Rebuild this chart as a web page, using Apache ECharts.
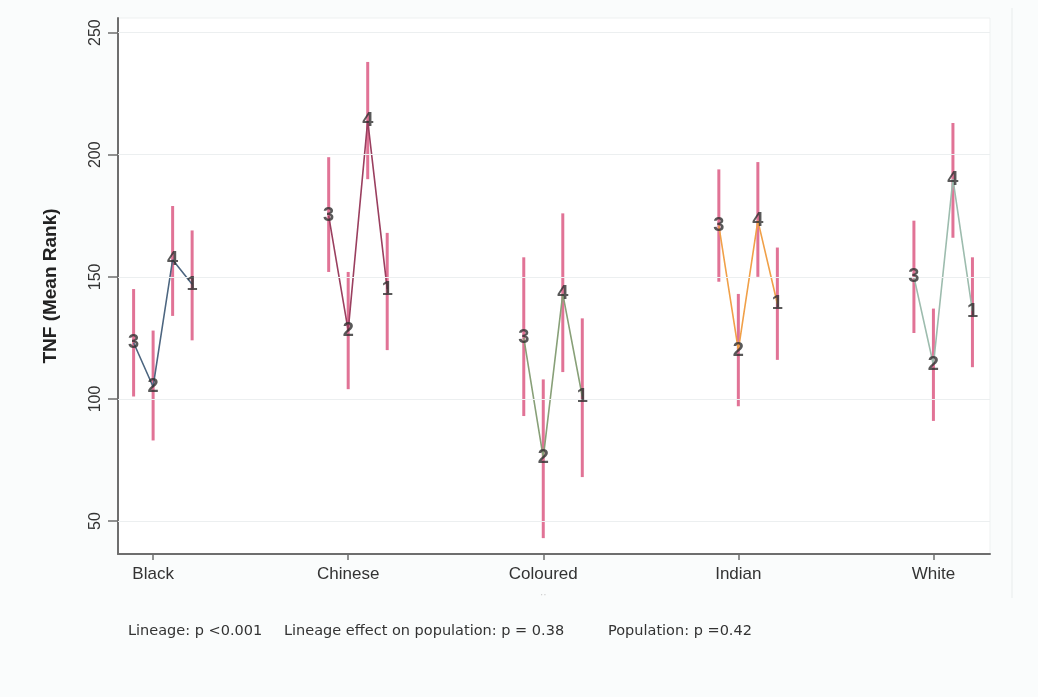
<!DOCTYPE html>
<html>
<head>
<meta charset="utf-8">
<script src="https://cdn.jsdelivr.net/npm/echarts@6/dist/echarts.min.js"></script>
<style>
  html, body { margin: 0; padding: 0; background: #fafcfc; }
  #chart { width: 1038px; height: 697px; }
</style>
</head>
<body>
<div id="chart"></div>
<script>
// Populations along the x axis and the lineage order plotted within each group
const populations = ['Black', 'Chinese', 'Coloured', 'Indian', 'White'];
const lineages = ['3', '2', '4', '1'];
const yTicks = [50, 100, 150, 200, 250];

// TNF mean rank and 95% CI per lineage (order: 3, 2, 4, 1)
const blackMean = [123, 105, 157, 147];
const blackLow = [101, 83, 134, 124];
const blackHigh = [145, 128, 179, 169];

const chineseMean = [175, 128, 214, 145];
const chineseLow = [152, 104, 190, 120];
const chineseHigh = [199, 152, 238, 168];

const colouredMean = [125, 76, 143, 101];
const colouredLow = [93, 43, 111, 68];
const colouredHigh = [158, 108, 176, 133];

const indianMean = [171, 120, 173, 139];
const indianLow = [148, 97, 150, 116];
const indianHigh = [194, 143, 197, 162];

const whiteMean = [150, 114, 190, 136];
const whiteLow = [127, 91, 166, 113];
const whiteHigh = [173, 137, 213, 158];

const pValues = ['Lineage: p <0.001', 'Lineage effect on population: p = 0.38', 'Population: p =0.42'];

const groups = [
  { mean: blackMean, low: blackLow, high: blackHigh, color: '#4d6680' },
  { mean: chineseMean, low: chineseLow, high: chineseHigh, color: '#9a3f5f' },
  { mean: colouredMean, low: colouredLow, high: colouredHigh, color: '#88a078' },
  { mean: indianMean, low: indianLow, high: indianHigh, color: '#f0a048' },
  { mean: whiteMean, low: whiteLow, high: whiteHigh, color: '#9dbcae' }
];

// lineages sit side by side around each population tick
const xPos = (g, j) => g + (j - 1) * 0.1;

const ciData = [];
const labelData = [];
groups.forEach((grp, g) => {
  lineages.forEach((lin, j) => {
    ciData.push([xPos(g, j), grp.low[j], grp.high[j]]);
    labelData.push([xPos(g, j), grp.mean[j], lin]);
  });
});

const lineSeries = groups.map((grp, g) => ({
  type: 'line',
  data: grp.mean.map((m, j) => [xPos(g, j), m]),
  symbol: 'none',
  lineStyle: { color: grp.color, width: 1.6 },
  z: 3,
  silent: true,
  animation: false
}));

const chart = echarts.init(document.getElementById('chart'), null, { renderer: 'canvas' });

const noteFont = 'DejaVu Sans, sans-serif';

chart.setOption({
  backgroundColor: '#fafcfc',
  animation: false,
  grid: {
    left: 118, right: 48, top: 18, bottom: 143,
    show: true, backgroundColor: '#ffffff', borderColor: '#eef1f1', borderWidth: 1
  },
  xAxis: {
    type: 'value',
    min: -0.18,
    max: 4.29,
    splitLine: { show: false },
    axisLine: { onZero: false, lineStyle: { color: '#6e6e6e', width: 2 } },
    axisTick: { customValues: [0, 1, 2, 3, 4], length: 6, lineStyle: { color: '#6e6e6e', width: 1.5 } },
    axisLabel: {
      customValues: [0, 1, 2, 3, 4],
      formatter: v => populations[Math.round(v)],
      fontSize: 17,
      fontFamily: 'Liberation Sans, Arial, sans-serif',
      color: '#333',
      margin: 12
    }
  },
  yAxis: {
    type: 'value',
    min: 36.5,
    max: 256,
    name: 'TNF (Mean Rank)',
    nameLocation: 'middle',
    nameGap: 58,
    nameTextStyle: { fontSize: 19, fontWeight: 'bold', color: '#222', fontFamily: 'Liberation Sans, Arial, sans-serif' },
    splitLine: { show: false },
    axisLine: { show: true, onZero: false, lineStyle: { color: '#6e6e6e', width: 2 } },
    axisTick: { customValues: yTicks, length: 10, lineStyle: { color: '#6e6e6e', width: 1.5 } },
    axisLabel: {
      customValues: yTicks,
      rotate: 90,
      fontSize: 16,
      fontFamily: 'Liberation Sans, Arial, sans-serif',
      color: '#333',
      margin: 14
    }
  },
  graphic: [
    { type: 'line', shape: { x1: 1012, y1: 8, x2: 1012, y2: 598 }, style: { stroke: '#eef2f2', lineWidth: 1.5 }, silent: true },
    { type: 'text', left: 540, top: 590, style: { text: '··', fontSize: 10, fill: '#c8c8c8' }, silent: true },
    { type: 'text', left: 128, top: 624, style: { text: pValues[0], fontSize: 14.5, fill: '#333', fontFamily: noteFont } },
    { type: 'text', left: 284, top: 624, style: { text: pValues[1], fontSize: 14.5, fill: '#333', fontFamily: noteFont } },
    { type: 'text', left: 608, top: 624, style: { text: pValues[2], fontSize: 14.5, fill: '#333', fontFamily: noteFont } }
  ],
  series: [
    {
      // horizontal reference lines at the labelled y ticks
      type: 'scatter',
      data: [],
      silent: true,
      markLine: {
        silent: true,
        symbol: 'none',
        label: { show: false },
        lineStyle: { color: '#eceff0', width: 1, type: 'solid' },
        data: yTicks.map(v => ({ yAxis: v }))
      },
      z: 1
    },
    {
      // confidence interval spikes
      type: 'custom',
      data: ciData,
      z: 2,
      silent: true,
      renderItem: (params, api) => {
        const p1 = api.coord([api.value(0), api.value(1)]);
        const p2 = api.coord([api.value(0), api.value(2)]);
        return {
          type: 'line',
          shape: { x1: p1[0], y1: p1[1], x2: p2[0], y2: p2[1] },
          style: { stroke: '#dc5a84', lineWidth: 3, opacity: 0.85 }
        };
      }
    },
    ...lineSeries,
    {
      // lineage markers drawn as their number
      type: 'scatter',
      data: labelData,
      symbolSize: 0,
      itemStyle: { color: 'transparent' },
      z: 5,
      silent: true,
      label: {
        show: true,
        position: 'inside',
        formatter: p => p.value[2],
        fontSize: 20,
        fontWeight: 'bold',
        fontFamily: 'Liberation Sans, Arial, sans-serif',
        color: '#2f2f2f'
      }
    }
  ]
});
</script>
</body>
</html>
